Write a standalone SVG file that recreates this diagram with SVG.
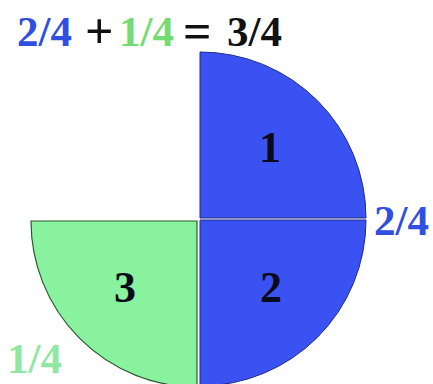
<svg xmlns="http://www.w3.org/2000/svg" width="433" height="384" viewBox="0 0 433 384">
<style>
.t{font-family:"Liberation Serif","Times New Roman",serif;font-weight:bold;font-size:43px}
.op{font-family:"Liberation Serif","Times New Roman",serif;font-weight:bold;font-size:50px;fill:#111}
.n{font-family:"Liberation Serif","Times New Roman",serif;font-weight:bold;font-size:44px;fill:#0a0a1a;text-anchor:middle}
.blue{fill:#3a52f2;stroke:#1c2a8a;stroke-width:1}
.green{fill:#88f29e;stroke:#2c5a30;stroke-width:1.2}
</style>
<rect width="433" height="384" fill="#ffffff"/>
<g id="title">
<text class="t" x="17" y="46" fill="#2f4fe0">2/4</text>
<text class="op" x="85" y="48">+</text>
<text class="t" x="119" y="46" fill="#74dc72">1/4</text>
<text class="op" x="183" y="48">=</text>
<text class="t" x="227" y="46" fill="#111">3/4</text>
</g>
<g id="quarter1">
<path class="blue" d="M200,218 V52 A166,166 0 0 1 366,218 Z"/>
<text class="n" x="270" y="162">1</text>
</g>
<g id="quarter2">
<path class="blue" d="M200,220 H366 A166,166 0 0 1 200,386 Z"/>
<text class="n" x="271" y="302">2</text>
</g>
<g id="quarter3">
<path class="green" d="M197,221 V387 A166,166 0 0 1 31,221 Z"/>
<text class="n" x="125" y="302">3</text>
</g>
<g id="label-blue">
<text class="t" x="374" y="235" fill="#2f4fe0">2/4</text>
</g>
<g id="label-green">
<text class="t" x="7" y="373" fill="#8ee8a2">1/4</text>
</g>
<g id="connectors"></g>
</svg>
